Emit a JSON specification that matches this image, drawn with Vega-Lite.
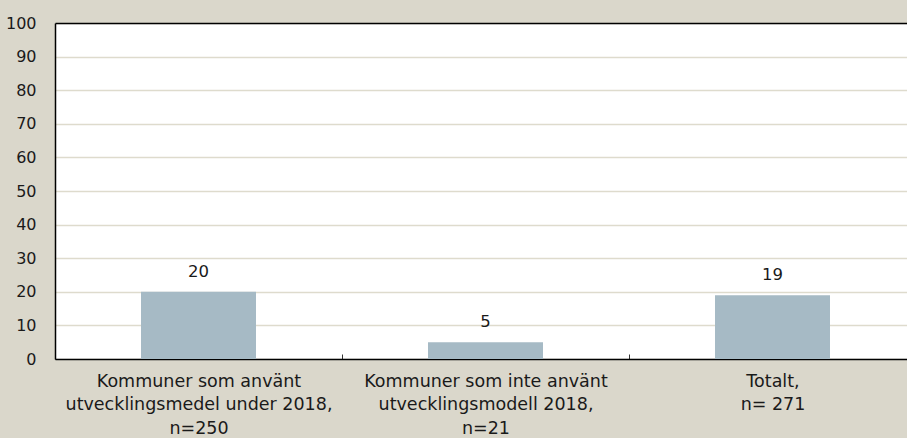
{
  "$schema": "https://vega.github.io/schema/vega-lite/v6.json",
  "width": 852,
  "height": 336,
  "autosize": {"type": "none"},
  "padding": {"left": 55, "top": 23, "right": 0, "bottom": 79},
  "background": "#dad7cb",
  "config": {
    "view": {"stroke": null, "fill": "white"},
    "font": "DejaVu Sans"
  },
  "data": {
    "values": [
      {"kategori": "Kommuner som använt|utvecklingsmedel under 2018,|n=250", "andel": 20},
      {"kategori": "Kommuner som inte använt|utvecklingsmodell 2018,|n=21", "andel": 5},
      {"kategori": "Totalt,|n= 271", "andel": 19}
    ]
  },
  "encoding": {
    "y": {
      "field": "andel",
      "type": "quantitative",
      "scale": {"domain": [0, 100], "nice": false},
      "axis": {
        "title": null,
        "values": [0, 10, 20, 30, 40, 50, 60, 70, 80, 90, 100],
        "labelOverlap": false,
        "ticks": false,
        "labelPadding": 19,
        "labelFont": "DejaVu Sans",
        "labelFontSize": 16,
        "labelColor": "#1a1a1a",
        "domainColor": "#000000",
        "domainWidth": 1.5,
        "grid": true,
        "gridColor": "#dedbcd",
        "gridWidth": 1.5
      }
    }
  },
  "layer": [
    {
      "mark": {"type": "bar", "color": "#a6bac5", "size": 115},
      "encoding": {
        "x": {
          "field": "kategori",
          "type": "nominal",
          "sort": null,
          "scale": {"range": [0, 861], "paddingInner": 0, "paddingOuter": 0},
          "axis": {
            "title": null,
            "labelAngle": 0,
            "labelExpr": "split(datum.label, '|')",
            "labelFont": "DejaVu Sans",
            "labelFontSize": 17.5,
            "labelLimit": 0,
            "labelColor": "#1a1a1a",
            "labelLineHeight": 23.5,
            "labelPadding": 18,
            "labelBaseline": "top",
            "tickBand": "extent",
            "tickSize": -5,
            "tickColor": "#333333",
            "domainColor": "#000000",
            "domainWidth": 1.5
          }
        }
      }
    },
    {
      "mark": {"type": "text", "baseline": "bottom", "dy": -12, "font": "DejaVu Sans", "fontSize": 16.5, "color": "#1a1a1a"},
      "encoding": {
        "text": {"field": "andel", "type": "quantitative"},
        "x": {
          "field": "kategori",
          "type": "nominal",
          "sort": null,
          "axis": {
            "orient": "top",
            "title": null,
            "labels": false,
            "ticks": false,
            "domainColor": "#000000",
            "domainWidth": 1.5
          }
        }
      }
    }
  ],
  "resolve": {"axis": {"x": "independent"}}
}
